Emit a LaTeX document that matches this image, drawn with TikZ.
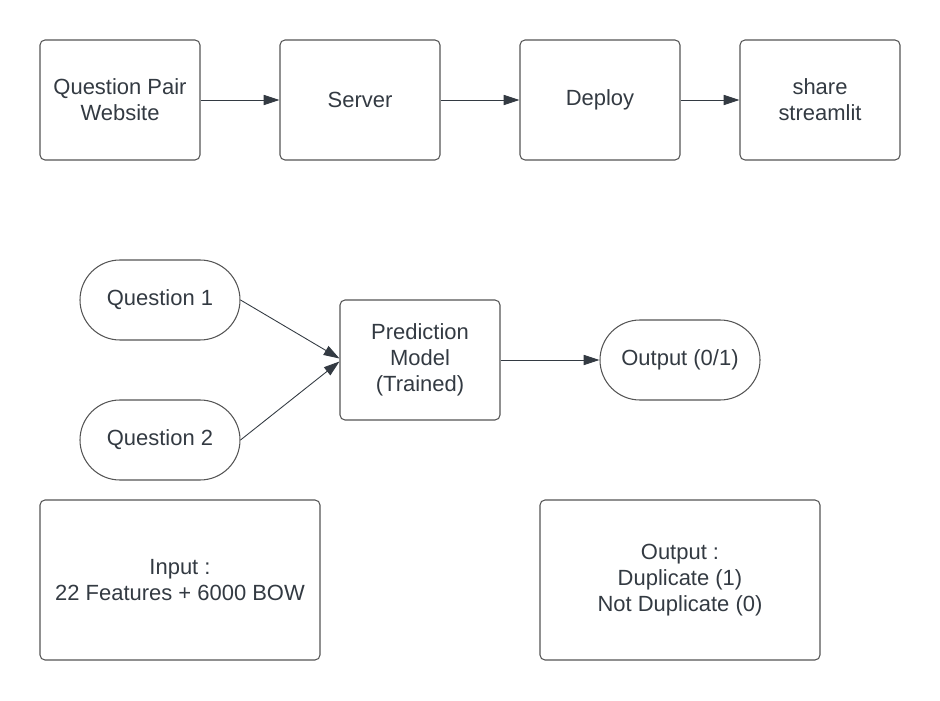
\documentclass[tikz,border=0pt]{standalone}
\usepackage{fontspec}
\setmainfont{Liberation Sans}
\usetikzlibrary{arrows.meta}
\definecolor{edgegray}{HTML}{555555}
\definecolor{inkgray}{HTML}{333A42}
\begin{document}
\begin{tikzpicture}[>={Triangle[length=9pt,width=5.8pt,color=inkgray]},
	box/.style={draw=edgegray,line width=0.6pt,rounded corners=0.1cm,align=center,text=inkgray,
		minimum width=3.2cm,minimum height=2.4cm,inner sep=0pt,font=\fontsize{12.5}{14.8}\selectfont},
	pill/.style={box,rounded corners=0.8cm,minimum height=1.6cm},
	widebox/.style={box,minimum width=5.6cm,minimum height=3.2cm},
	link/.style={->,draw=inkgray,line width=0.5pt}]
	\useasboundingbox (0,0) rectangle (18.8,14);
	% deployment row
	\node[box] (site) at (2.4,12) {Question Pair\\Website};
	\node[box] (server) at (7.2,12) {Server};
	\node[box] (deploy) at (12,12) {Deploy};
	\node[box] (share) at (16.4,12) {share\\streamlit};
	\draw[link] (site) -- (server);
	\draw[link] (server) -- (deploy);
	\draw[link] (deploy) -- (share);
	% model
	\node[pill] (q1) at (3.2,8) {Question 1};
	\node[pill] (q2) at (3.2,5.2) {Question 2};
	\node[box] (model) at (8.4,6.8) {Prediction\\Model\\(Trained)};
	\node[pill] (out) at (13.6,6.8) {Output (0/1)};
	\draw[link] (q1.east) -- ([yshift=0.03cm]model.west);
	\draw[link] (q2.east) -- ([yshift=-0.03cm]model.west);
	\draw[link] (model) -- (out);
	% notes
	\node[widebox] (input) at (3.6,2.4) {Input :\\22 Features + 6000 BOW};
	\node[widebox] (result) at (13.6,2.4) {Output :\\Duplicate (1)\\Not Duplicate (0)};
\end{tikzpicture}
\end{document}
